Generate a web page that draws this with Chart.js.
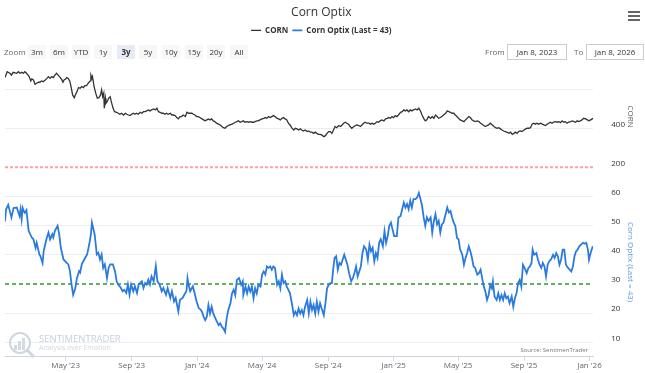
<!DOCTYPE html>
<html lang="en">
<head>
<meta charset="UTF-8">
<title>Corn Optix</title>
<script src="https://cdn.jsdelivr.net/npm/chart.js"></script>
<style>
  body { margin: 0; background: #fff; font-family: "Open Sans", Arial, sans-serif; }
  .wrap { position: relative; width: 645px; height: 373px; }
  .menu { position: absolute; left: 628px; top: 11px; width: 12px; }
  .menu span { display: block; height: 2px; background: #666; margin-bottom: 2px; }
  .zoomlbl { position: absolute; left: 4px; top: 45px; font-size: 8px; line-height: 14px; color: #666; }
  .btn { position: absolute; top: 45px; width: 18px; height: 14px; line-height: 14px; text-align: center; font-size: 8px; color: #333; background: #f7f7f7; }
  .btn.on { background: #e6ebf5; font-weight: bold; }
  .rlbl { position: absolute; top: 45px; font-size: 8px; line-height: 14px; color: #666; }
  .box { position: absolute; top: 44px; height: 14px; line-height: 14px; border: 1px solid #ccc; text-align: center; font-size: 8px; color: #333; }
</style>
</head>
<body>
<div class="wrap">
  <canvas id="grafico"></canvas>
  <div class="menu"><span></span><span></span><span></span></div>
  <div class="zoomlbl">Zoom</div>
  <div class="btn" style="left:28px">3m</div>
  <div class="btn" style="left:50px">6m</div>
  <div class="btn" style="left:72px">YTD</div>
  <div class="btn" style="left:94px">1y</div>
  <div class="btn on" style="left:117px">3y</div>
  <div class="btn" style="left:139px">5y</div>
  <div class="btn" style="left:162px">10y</div>
  <div class="btn" style="left:185px">15y</div>
  <div class="btn" style="left:207px">20y</div>
  <div class="btn" style="left:230px">All</div>
  <div class="rlbl" style="left:485px">From</div>
  <div class="box" style="left:507px;width:58px">Jan 8, 2023</div>
  <div class="rlbl" style="left:574px">To</div>
  <div class="box" style="left:586px;width:56px">Jan 8, 2026</div>
</div>

<script>
  // x values are days counted from Jan 1, 2023
  const firstDay = 7, lastDay = 1103;
  const monthTicks = [120, 243, 365, 486, 609, 731, 851, 974, 1096];
  const monthLabels = ["May '23", "Sep '23", "Jan '24", "May '24", "Sep '24", "Jan '25", "May '25", "Sep '25", "Jan '26"];
  const cornTicks = [200, 400, 600];
  const optixTicks = [10, 20, 30, 40, 50, 60];
  const cornLine = 200;
  const optixLine = 30;

  const cornDays = [
    7,11,16,19,22,29,32,35,38,41, 44,47,50,52,55,57,60,63,66,69,
    72,75,78,82,85,88,91,94,97,100, 103,106,110,113,115,117,120,122,125,128,
    130,133,136,138,141,144,147,150,153,156, 159,162,166,167,169,170,173,176,179,182,
    185,187,189,191,192,194,195,198,200,203, 205,208,211,215,218,221,224,228,231,234,
    237,240,243,246,249,252,255,259,262,265, 268,271,274,277,280,284,287,290,293,296,
    299,302,305,308,311,315,318,321,324,327, 330,333,336,339,343,346,349,352,355,358,
    361,364,367,370,374,377,380,383,386,389, 392,395,398,401,405,408,411,414,417,420,
    423,426,430,433,436,439,442,445,448,451, 454,457,461,464,467,470,473,476,479,482,
    486,489,492,495,498,501,504,507,510,514, 517,520,523,526,529,532,535,538,541,545,
    548,551,554,557,560,563,566,570,573,576, 579,582,585,588,591,594,597,601,604,
    607,610,613,616,619,622,625,629,632,635, 638,641,644,647,650,653,657,660,663,666,
    669,672,675,678,681,685,688,691,694,697, 700,703,706,709,713,716,719,722,725,728,
    731,734,737,740,744,747,750,753,756,759, 762,765,768,772,775,778,781,784,787,790,
    793,796,800,803,806,809,812,815,818,821, 824,828,831,834,837,840,843,846,849,852,
    855,859,862,865,868,871,874,877,880,883, 887,890,893,896,899,902,905,908,911,915,
    918,921,924,927,930,933,936,939,942,946, 949,952,955,958,961,964,967,970,974,977,
    980,983,986,989,992,995,998,1001,1005,1008, 1011,1014,1017,1020,1023,1026,1029,1033,1036,1039,
    1042,1045,1048,1051,1054,1057,1061,1064,1067,1070, 1073,1076,1079,1082,1085,1089,1092,1095,1098,1101,
    1103
  ];
  const cornValues = [
    660,690,682,673,687,682,690,682,687,682, 690,682,673,665,643,653,648,626,631,636,
    636,643,639,648,656,665,656,665,660,673, 682,673,660,648,636,648,653,660,656,639,
    614,571,557,571,588,609,605,614,609,619, 619,631,643,673,656,665,614,580,554,557,
    571,597,562,580,503,554,528,540,554,562, 537,506,485,482,477,472,477,468,477,472,
    468,465,472,477,472,477,472,482,477,485, 485,489,494,489,494,499,494,503,485,482,
    477,477,472,477,472,477,468,468,465,455, 448,460,460,468,460,482,477,477,477,472,
    468,460,460,455,448,443,438,443,448,443, 448,438,434,426,421,417,409,403,400,409,
    414,417,421,426,431,434,438,431,434,438, 431,434,431,434,431,431,434,438,438,443,
    448,451,455,451,460,455,460,465,460,451, 448,443,451,455,448,443,426,417,403,391,
    400,397,391,397,391,386,391,383,386,380, 380,374,380,374,369,369,366,357,362,
    374,383,383,374,391,409,403,414,409,417, 426,431,426,421,409,400,409,414,417,414,
    409,417,426,431,426,426,421,426,421,426, 434,431,438,443,438,448,451,455,451,460,
    455,465,460,468,482,485,494,489,494,485, 494,489,494,499,494,503,489,468,451,438,
    443,460,451,460,451,468,460,451,455,460, 468,477,489,485,482,477,477,468,460,451,
    443,438,434,443,451,460,455,443,438,434, 438,434,426,421,414,409,414,417,426,417,
    409,403,400,403,397,391,386,383,380,374, 380,369,374,380,374,383,386,383,391,397,
    400,400,403,421,426,421,426,421,426,421, 417,414,421,426,431,426,431,434,431,434,
    429,438,431,434,426,431,434,438,434,431, 438,434,438,443,451,448,443,438,443,448,
    451
  ];

  const optixDays = [
    7,9,13,19,23,29,34,36,38,40, 42,44,47,51,57,60,64,66,71,73,
    77,79,82,85,88,91,95,97,100,105, 108,111,116,122,125,128,131,134,138,141,
    145,147,150,153,158,160,164,167,169,174, 176,178,181,184,187,190,193,197,200,203,
    208,212,215,218,223,226,229,233,236,239, 242,246,249,253,256,262,265,268,271,274,
    277,280,284,288,291,295,299,302,307,310, 315,318,322,325,330,333,338,341,345,347,
    349,352,357,361,364,368,371,
    374,377,380,383,386,389,392,395,399,402, 405,408,411,414,417,420,423,427,430,433,
    436,439,443,447,450,451,455,458,461,464, 467,470,473,476,479,483,486,489,492,495,
    498,501,504,507,510,514,517,520,523,526, 529,532,535,538,542,545,548,551,554,557,
    560,563,566,570,573,576,579,582,585,588, 591,594,597,601,604,607,610,613,616,618,
    621,624,627,630,633,636,639,642,645,648, 652,655,658,661,664,667,670,673,676,680,
    683,686,689,692,695,698,701,704,707,711, 714,717,720,723,726,729,732,
    737,740,744,747,750,753,756,759,762,765, 768,772,775,778,781,784,787,790,793,796,
    800,803,806,809,812,815,818,821,824,827, 831,834,837,840,843,846,849,852,855,859,
    862,865,868,871,874,877,880,883,887,890, 893,896,899,902,905,908,911,914,916,919,
    923,926,929,932,935,938,941,944,947,951, 954,957,960,963,966,969,972,975,979,982,
    985,988,990,993,997,1000,1003,1006,1009,1012, 1015,1018,1021,1024,1028,1031,1034,1037,1040,1043,
    1046,1049,1052,1056,1059,1062,1065,1068,1071,1074, 1077,1080,1084,1087,1090,1093,1095,1098,1102
  ];
  const optixValues = [
    51.4,55.6,57.1,52.8,56,56.2,53.3,55.6,52.2,56, 55,54.4,55.3,48.2,45.9,45.3,42.4,44.1,40.1,39.5,
    37.2,41.2,43.6,45.9,47.6,45.3,47,45.9,48.2,49.9, 47,42.4,38.4,37.2,36.7,34.4,29.8,26.3,28.6,32,
    34.4,33.9,36.7,37.8,39.5,40.1,43.6,47,51,47, 43.6,40.1,40.7,38.4,40.1,35.5,36.7,32,35.5,36.7,
    36.7,34.4,30.9,29.8,28.6,27.5,28,26.9,29.8,26.3, 29.8,27.5,29.2,26.9,29.8,30.9,28.6,30.3,29.8,31.5,
    29.8,32.6,30.9,36.1,30.9,29.8,27.5,28.6,26.3,28.6, 25.2,27.5,24,25.2,20.6,24.6,25.2,26.3,27.5,32,
    29.8,27.5,29.2,26.3,24,21.7,21.3,
    20.5,18.8,17.6,18.8,22.8,19.9,22.2,19.9,18.2,17, 15.9,16.5,15.3,14.7,13.6,18.2,21.1,23.4,26.8,28,
    26.2,31.4,32,29.7,30.9,26.2,29.1,26.8,29.1,27.4, 29.1,25.1,28.5,26.8,29.7,29.1,33.2,34.3,33.2,36,
    35.5,36,34.9,36,35.5,29.7,30.9,28.5,33.2,30.3, 30.9,29.1,28,26.8,22.8,19.3,20.5,19.3,21.6,19.9,
    21.1,19.3,22.2,24.5,19.9,23.9,21.1,22.8,19.9,23.9, 20.5,23.4,21.6,19.3,23.4,28.5,29.7,30.3,30.3,34.3,
    38.9,39.5,34.9,37.2,36.6,38.3,40,38.3,36.6,33.7, 30.9,32,33.7,36,32.6,34.3,36,40.6,42.9,41.8,
    38.3,43.5,41.2,42.4,37.8,40.6,38.9,44.1,45.3,42.9, 48.1,44.1,46.4,49.9,51,48.7,46.4,
    46.4,52.8,53.3,55.6,57.9,56.2,57.4,55.6,58.5,56.2, 59.1,59.1,59.7,61.2,59.1,56.8,52.8,49.9,52.8,51.6,
    52.8,47.6,51.6,53.9,50.4,51.6,47.6,50.4,51,53.3, 56.2,54.5,55,52.8,51,49.9,45.8,45.3,41.8,40,
    36.6,38.9,40.6,42.9,41.2,38.9,36,35.5,33.2,33.7, 34.9,32,29.1,27.4,24.5,26.2,29.7,28.5,30.9,25.7,
    24.5,26.8,24.5,26.2,24.5,26.8,25.1,25.7,23.4,25.7, 22.2,25.1,26.8,30.3,31.4,29.1,36.6,35.5,33.7,35.5,
    36,37.2,41.8,40,40.6,38.3,36.6,35.5,37.2,36, 32.6,36.6,37.8,38.3,40,38.9,40.6,39.5,36.6,38.3,
    41.8,41.8,36.6,35.5,34.9,34.3,36,39.5,41.2,41.8, 42.9,43.5,44.1,43.8,44.1,41.8,38.3,40.6,42.9
  ];

  Chart.defaults.font.family = '"Open Sans", Arial, sans-serif';

  const pares = (xs, ys) => xs.map((x, i) => ({ x: x, y: ys[i] }));

  // push the plot area down below the zoom row
  const legendGap = {
    id: 'legendGap',
    beforeInit(chart) {
      const fit = chart.legend.fit;
      chart.legend.fit = function () {
        fit.bind(chart.legend)();
        this.height += 21.5;
      };
    }
  };

  const marcaDagua = {
    id: 'marcaDagua',
    beforeDatasetsDraw(chart) {
      const c = chart.ctx;
      c.save();
      c.strokeStyle = '#cfd6de';
      c.lineWidth = 2;
      c.beginPath();
      c.arc(20, 343, 10, 0, Math.PI * 2);
      c.stroke();
      c.fillStyle = '#d3dae2';
      c.fillRect(14, 345, 3, 5);
      c.fillRect(18, 341, 3, 9);
      c.fillRect(22, 338, 3, 12);
      c.lineWidth = 3;
      c.beginPath();
      c.moveTo(27, 350);
      c.lineTo(34, 357);
      c.stroke();
      c.textBaseline = 'middle';
      c.fillStyle = '#c3d0e0';
      c.font = '9.5px "Open Sans"';
      c.fillText('SENTIMENTRADER', 39, 339);
      c.fillStyle = '#d3d7dc';
      c.font = '7px "Open Sans"';
      c.fillText('Analysis over Emotion', 39, 348);
      c.fillStyle = '#777';
      c.font = '6px "Open Sans"';
      c.textAlign = 'right';
      c.fillText('Source: SentimenTrader', 588, 350);
      c.restore();
    }
  };

  new Chart(document.getElementById('grafico'), {
    type: 'line',
    data: {
      datasets: [
        { label: 'CORN', data: pares(cornDays, cornValues), yAxisID: 'yCorn',
          borderColor: '#333', backgroundColor: '#333', borderWidth: 1.3, pointRadius: 0, order: 1 },
        { label: 'Corn Optix (Last = 43)', data: pares(optixDays, optixValues), yAxisID: 'yOptix',
          borderColor: '#2b7bde', backgroundColor: '#2b7bde', borderWidth: 1.8, pointRadius: 0, order: 1 },
        { label: 'ref corn', data: [{ x: firstDay, y: cornLine }, { x: lastDay, y: cornLine }], yAxisID: 'yCorn',
          borderColor: '#f5a3a3', borderDash: [3, 2], borderWidth: 2, pointRadius: 0, order: 3, clip: false },
        { label: 'ref optix', data: [{ x: firstDay, y: optixLine }, { x: lastDay, y: optixLine }], yAxisID: 'yOptix',
          borderColor: '#2e9a2e', borderDash: [4, 3], borderWidth: 1.5, pointRadius: 0, order: 3 }
      ]
    },
    options: {
      responsive: true,
      maintainAspectRatio: false,
      animation: false,
      layout: { padding: { left: 5, right: 7.4, bottom: 2.5 } },
      plugins: {
        title: { display: true, text: 'Corn Optix', color: '#333', font: { size: 12, weight: 'normal' }, padding: { top: 5, bottom: 3 } },
        legend: {
          labels: {
            filter: item => item.datasetIndex < 2,
            usePointStyle: true, pointStyle: 'line', pointStyleWidth: 10,
            color: '#333', font: { size: 8, weight: 'bold' }, padding: 4
          }
        },
        tooltip: { enabled: false }
      },
      scales: {
        x: {
          type: 'linear', min: firstDay, max: lastDay,
          afterBuildTicks: s => { s.ticks = monthTicks.map(v => ({ value: v })); },
          ticks: { autoSkip: false, maxRotation: 0, padding: 0, color: '#666', font: { size: 8 },
                   callback: v => monthLabels[monthTicks.indexOf(v)] },
          grid: { drawOnChartArea: false, color: '#ccd6eb', tickLength: 4 },
          border: { color: '#ccd6eb' }
        },
        yCorn: {
          position: 'right', stack: 'paineis', stackWeight: 101, min: 200, max: 720,
          afterBuildTicks: s => { s.ticks = cornTicks.map(v => ({ value: v })); },
          ticks: { padding: 0, labelOffset: -4, color: '#333', font: { size: 8 }, callback: v => v === 600 ? '' : v },
          grid: { tickLength: 18, tickColor: 'rgba(0,0,0,0)',
                  color: c => c.tick && c.tick.value === cornLine ? 'rgba(0,0,0,0)' : '#eeeeee' },
          border: { display: false },
          title: { display: true, text: 'CORN', color: '#666', font: { size: 8 }, padding: { top: 3, bottom: 0 } }
        },
        yOptix: {
          position: 'right', stack: 'paineis', stackWeight: 189, min: 5, max: 70,
          afterBuildTicks: s => { s.ticks = optixTicks.map(v => ({ value: v })); },
          ticks: { padding: 0, labelOffset: -4, color: '#333', font: { size: 8 } },
          grid: { tickLength: 18, tickColor: 'rgba(0,0,0,0)',
                  color: c => c.tick && c.tick.value === optixLine ? 'rgba(0,0,0,0)' : '#eeeeee' },
          border: { display: false },
          title: { display: true, text: 'Corn Optix (Last = 43)', color: '#5b95e5', font: { size: 8 }, padding: { top: 3, bottom: 0 } }
        }
      }
    },
    plugins: [legendGap, marcaDagua]
  });
</script>
</body>
</html>
